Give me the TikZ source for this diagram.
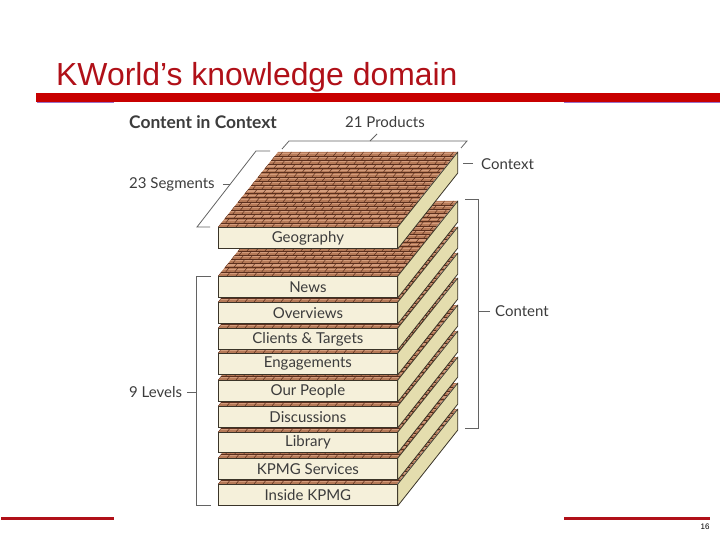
\documentclass[tikz,border=0pt]{standalone}
\usepackage{fontspec}
\setmainfont{Lato}
\newfontfamily\arialfont{Liberation Sans}
\definecolor{kmred}{HTML}{C80000}
\definecolor{kmdark}{HTML}{B01018}
\definecolor{kmpurple}{HTML}{9A70C8}
\definecolor{brickfill}{HTML}{B67A58}
\definecolor{brickline}{HTML}{5A2E1C}
\definecolor{brickshine}{HTML}{D49C7C}
\definecolor{frontface}{HTML}{F5F0DA}
\definecolor{sideface}{HTML}{E4DDAE}
\definecolor{edgecol}{HTML}{3A3428}
\definecolor{labelcol}{HTML}{3C3C3C}
\tikzset{x=1pt, y=-1pt,
    layerbox/.style={draw=edgecol, line width=0.8pt, fill=frontface, anchor=north west, inner sep=0pt,
                     minimum width=179pt, text=labelcol, font=\fontsize{15}{15}\selectfont},
    layerside/.style={draw=edgecol, line width=0.8pt, fill=sideface, line join=round},
    sidelabel/.style={text=labelcol, font=\fontsize{15}{15}\selectfont, inner sep=0pt},
    bracketline/.style={draw=labelcol!80, line width=1pt}}
% one slab: name, top of front face, height of front face, text
\newcommand{\slab}[4]{
    \begin{scope}[shift={(218,#2)}, xslant=0.8]
        \clip (0,0) rectangle (179,-75);
        \fill[brickfill] (0,0) rectangle (179,-75);
        \foreach \r in {0,...,17} {
            \draw[brickshine, line width=1.2pt] (0,-\r*4.17-2.6) -- (179,-\r*4.17-2.6);
            \draw[brickline, line width=0.65pt] (0,-\r*4.17) -- (179,-\r*4.17);
            \pgfmathsetmacro{\brickshift}{mod(\r,2)*4.5}
            \foreach \c in {0,...,20}
                \draw[brickline, line width=0.5pt] (\c*9-\brickshift,-\r*4.17) -- ++(0,-4.17);
        }
    \end{scope}
    \node[layerbox, minimum height=#3pt] (#1) at (218,#2) {#4};
    \draw[layerside] (#1.north east) -- ++(60,-75) -- ++(0,#3) -- (#1.south east) -- cycle;
}
\begin{document}
\begin{tikzpicture}
                \useasboundingbox (0,0) rectangle (720,540);

                \node[text=kmdark, font=\arialfont\fontsize{31.9}{32}\selectfont, anchor=base west, inner sep=0pt] (title) at (56,86) {KWorld’s knowledge domain};
                \fill[kmpurple] (37,101) rectangle (114,103.5);
                \fill[kmpurple] (564,101) rectangle (720,103.5);
                \fill[kmred] (36,93.5) rectangle (720,102);
                \fill[kmdark] (1,516.8) rectangle (114,519.5);
                \fill[kmdark] (564,516.8) rectangle (710,519.5);
                \node[font=\arialfont\fontsize{8}{8}\selectfont, inner sep=0pt] (pagenum) at (705,527) {16};

                \node[sidelabel, font=\bfseries\fontsize{17.4}{18}\selectfont, anchor=west] (heading) at (129,122) {Content in Context};
                \node[sidelabel, anchor=west] (products) at (345,122) {21 Products};
                \node[sidelabel, anchor=west] (segments) at (129,184.5) {23 Segments};
                \node[sidelabel, anchor=west] (levels) at (129,392.5) {9 Levels};
                \node[sidelabel, anchor=west] (context) at (481,164) {Context};
                \node[sidelabel, anchor=west] (content) at (495,311) {Content};

                \slab{inside}{484}{21}{Inside KPMG}
                \slab{services}{458}{21}{KPMG Services}
                \slab{library}{432}{20}{Library}
                \slab{discussions}{406}{21}{Discussions}
                \slab{people}{380}{21}{Our People}
                \slab{engagements}{353}{21}{Engagements}
                \slab{clients}{328}{21}{Clients \& Targets}
                \slab{overviews}{302}{21}{Overviews}
                \slab{news}{276}{21}{News}
                \slab{geography}{227}{21}{Geography}

                \coordinate (pb1) at (282,149);
                \coordinate (pb2) at (289,141);
                \coordinate (pb3) at (467,141);
                \coordinate (pb4) at (461,148);
                \coordinate (ptick) at (370,141);
                \coordinate (pend) at (377,134);
                \draw[bracketline, line width=0.8pt] (pb1) -- (pb2) -- (pb3) -- (pb4);
                \draw[bracketline, line width=0.8pt] (ptick) -- (pend);

                \coordinate (sb1) at (270,151);
                \coordinate (sb2) at (256,151);
                \coordinate (sb3) at (197,227);
                \coordinate (sb4) at (210,227);
                \coordinate (stick) at (229.5,184.5);
                \draw[bracketline, line width=0.8pt] (sb1) -- (sb2) -- (sb3) -- (sb4);
                \draw[bracketline, shorten <=8pt] (segments) -- (stick);

                \coordinate (lb1) at (211,276);
                \coordinate (lb2) at (196,276);
                \coordinate (lb3) at (196,505);
                \coordinate (lb4) at (211,505);
                \coordinate (ltick) at (196,392.5);
                \draw[bracketline] (lb1) -- (lb2) -- (lb3) -- (lb4);
                \draw[bracketline, shorten <=5pt] (levels) -- (ltick);

                \coordinate (cb1) at (465,199.5);
                \coordinate (cb2) at (478.5,199.5);
                \coordinate (cb3) at (478.5,428.5);
                \coordinate (cb4) at (465,428.5);
                \coordinate (ctick) at (478.5,311);
                \draw[bracketline] (cb1) -- (cb2) -- (cb3) -- (cb4);
                \draw[bracketline, shorten <=5pt] (content) -- (ctick);

                \coordinate (xtick) at (463,164);
                \draw[bracketline, shorten <=8pt] (context) -- (xtick);
\end{tikzpicture}
\end{document}
